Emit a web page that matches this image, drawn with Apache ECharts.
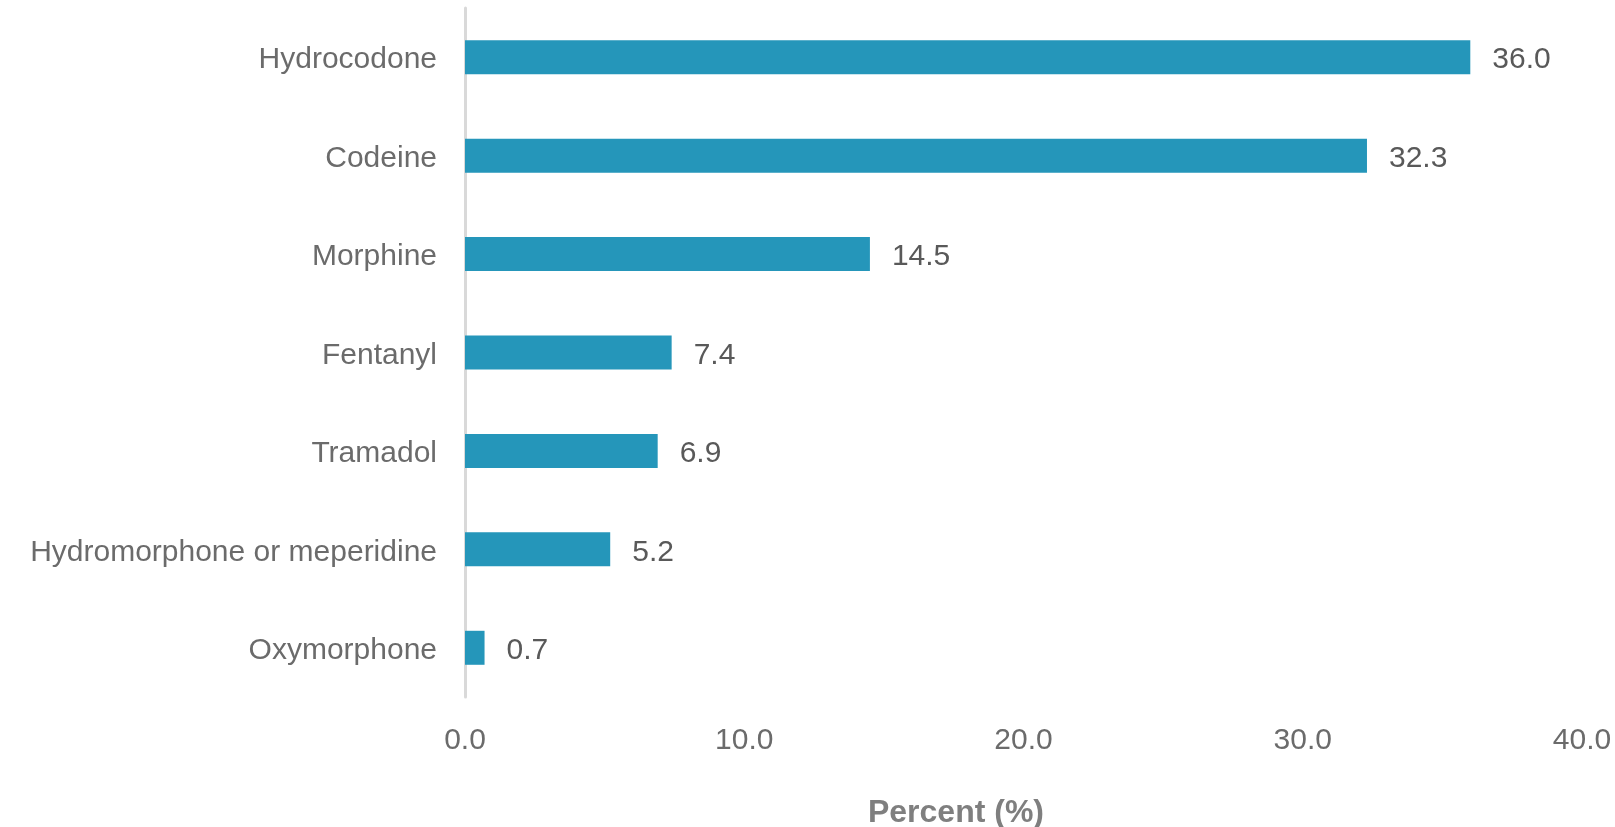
<!DOCTYPE html>
<html>
<head>
<meta charset="utf-8">
<script src="https://cdn.jsdelivr.net/npm/echarts@6/dist/echarts.min.js"></script>
<style>
html,body{margin:0;padding:0;background:#fff;}
#chart{width:1615px;height:827px;}
</style>
</head>
<body>
<div id="chart"></div>
<script>
const categories = ['Hydrocodone', 'Codeine', 'Morphine', 'Fentanyl', 'Tramadol', 'Hydromorphone or meperidine', 'Oxymorphone'];
const percentValues = [36.0, 32.3, 14.5, 7.4, 6.9, 5.2, 0.7];
const axisTitle = 'Percent (%)';

const chart = echarts.init(document.getElementById('chart'), null, {renderer: 'canvas'});
const FONT = '"Liberation Sans", Arial, sans-serif';
chart.setOption({
  animation: false,
  backgroundColor: '#ffffff',
  grid: {left: 465, right: 33, top: 8, bottom: 130, containLabel: false},
  xAxis: {
    type: 'value',
    min: 0, max: 40, interval: 10,
    axisLine: {show: false},
    axisTick: {show: false},
    splitLine: {show: false},
    axisLabel: {
      color: '#6b6b6b', fontSize: 30, fontFamily: FONT, margin: 26,
      padding: [3, 0, 0, 0],
      formatter: v => v.toFixed(1)
    }
  },
  yAxis: {
    type: 'category',
    data: categories,
    inverse: true,
    axisLine: {show: true, lineStyle: {color: '#d9d9d9', width: 3}},
    axisTick: {show: false},
    axisLabel: {
      margin: 28,
      formatter: v => '{c|' + v + '}',
      rich: {c: {color: '#6b6b6b', fontSize: 30, fontFamily: FONT, padding: [6, 0, 0, 0]}}
    }
  },
  series: [{
    type: 'bar',
    data: percentValues,
    barWidth: 34,
    itemStyle: {color: '#2596BA'},
    label: {
      show: true, position: 'right', distance: 22, offset: [0, 3],
      color: '#595959', fontSize: 30, fontFamily: FONT,
      formatter: p => p.value.toFixed(1)
    }
  }],
  graphic: [{
    type: 'text',
    x: 956, y: 813,
    style: {
      text: axisTitle, fill: '#7f7f7f',
      font: 'bold 32px ' + FONT,
      textAlign: 'center', textVerticalAlign: 'middle'
    }
  }]
});
</script>
</body>
</html>
